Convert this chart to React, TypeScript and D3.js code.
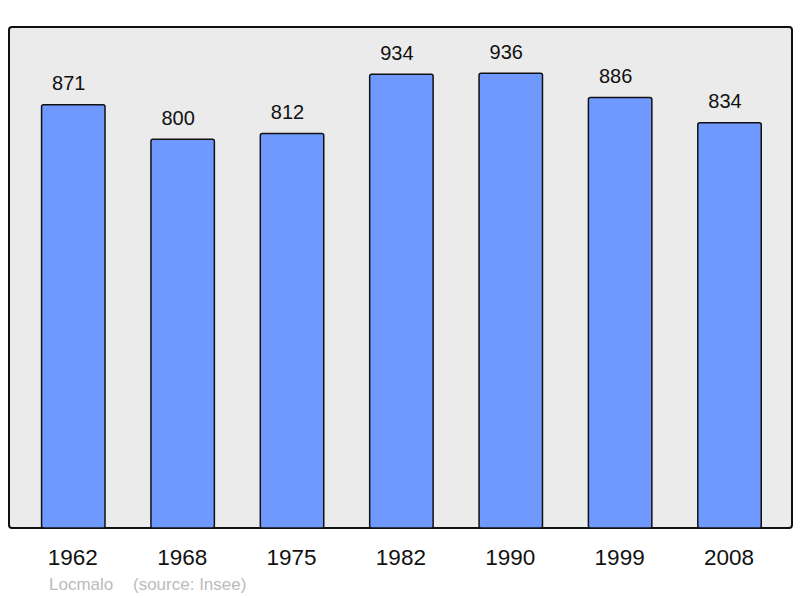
import React from "react";
import * as d3 from "d3";

const years = ["1962", "1968", "1975", "1982", "1990", "1999", "2008"];
const population = [871, 800, 812, 934, 936, 886, 834];
const author = "Locmalo";
const source = "(source: Insee)";

const W = 800;
const H = 598;
const panel = { x: 9, y: 27, w: 783, h: 501 };

export default function App() {
  const x = d3
    .scaleBand<string>()
    .domain(years)
    .range([18.6, 784.2])
    .paddingInner(0.42)
    .paddingOuter(0.21);
  const y = d3.scaleLinear().domain([0, 1031]).range([panel.y + panel.h, panel.y]);
  const font = "'Liberation Sans', Arial, sans-serif";

  return (
    <svg
      width={W}
      height={H}
      style={{ position: "fixed", left: 0, top: 0, background: "#fff" }}
      fontFamily={font}
    >
      <rect
        x={panel.x}
        y={panel.y}
        width={panel.w}
        height={panel.h}
        rx={3}
        fill="#ebebeb"
        stroke="#111"
        strokeWidth={2}
      />
      {years.map((yr, i) => {
        const v = population[i];
        const bx = x(yr)!;
        const top = y(v);
        return (
          <g key={yr}>
            <rect
              x={bx}
              y={top}
              width={x.bandwidth()}
              height={y(0) - top}
              rx={2}
              fill="#7099ff"
              stroke="#111"
              strokeWidth={1.5}
            />
            <text
              x={bx + x.bandwidth() / 2 - 4.5}
              y={top - 14.5}
              textAnchor="middle"
              fontSize={20}
              fill="#111"
            >
              {v}
            </text>
            <text
              x={bx + x.bandwidth() / 2 - 0.5}
              y={565}
              textAnchor="middle"
              fontSize={22.5}
              fill="#111"
            >
              {yr}
            </text>
          </g>
        );
      })}
      <text x={49} y={590} fontSize={17} fill="#bbbbbb">
        {author}
      </text>
      <text x={133} y={590} fontSize={17} fill="#bbbbbb">
        {source}
      </text>
    </svg>
  );
}
